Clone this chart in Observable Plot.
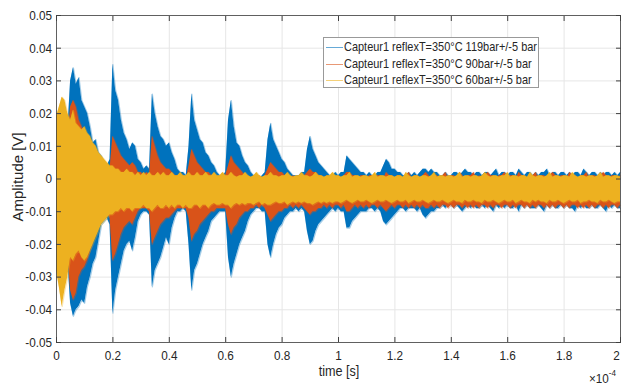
<!DOCTYPE html>
<html><head><meta charset="utf-8">
<script src="https://cdn.jsdelivr.net/npm/d3@7"></script>
<script src="https://cdn.jsdelivr.net/npm/@observablehq/plot@0.6"></script>
<style>
body{margin:0;background:#fff;}
#wrap{position:relative;width:622px;height:385px;overflow:hidden;font-family:"Liberation Sans",Arial,Helvetica,sans-serif;color:#262626;}
#ylab{position:absolute;left:17px;top:177px;transform:translate(-50%,-50%) rotate(-90deg);font-size:15px;white-space:nowrap;}
#xlab{position:absolute;left:339px;top:364px;transform:translateX(-50%) scaleX(0.87);font-size:14.5px;line-height:1;white-space:nowrap;}
#xexp{position:absolute;left:589px;top:371px;font-size:13px;line-height:1;white-space:nowrap;transform:scaleX(0.9);transform-origin:left;}
#xexp sup{font-size:9px;position:relative;top:-2px;}
#legend{position:absolute;left:323px;top:37px;width:214px;height:49px;border:1px solid #999;background:#fff;}
.row{position:absolute;left:0;height:16px;width:214px;}
.row .ln{position:absolute;left:2px;width:17px;top:8px;height:0;border-top:1px solid;}
.row .tx{position:absolute;left:20px;top:0;font-size:12.6px;line-height:16px;white-space:nowrap;transform:scaleX(0.87);transform-origin:left;}
</style></head>
<body><div id="wrap"></div>
<script>
// time axis in units of 1e-4 s, sampling step 0.01e-4 s
const timeStep = 0.01;
const nSamples = 201;
const xTicks = [0, 0.2, 0.4, 0.6, 0.8, 1, 1.2, 1.4, 1.6, 1.8, 2];
const yTicks = [-0.05, -0.04, -0.03, -0.02, -0.01, 0, 0.01, 0.02, 0.03, 0.04, 0.05];
const seriesNames = ["Capteur1 reflexT=350°C 119bar+/-5 bar", "Capteur1 reflexT=350°C 90bar+/-5 bar", "Capteur1 reflexT=350°C 60bar+/-5 bar"];
const seriesColors = ["#0072BD", "#D95319", "#EDB120"];

// envelopes (mV): upper / lower amplitude per sample
const blueHi = [
8,10,12,11,14,30,34,29,31,24,
22,20,16,11,12,8,7,5,4,6,
35,27,24,18,14,12,9,11,10,6,
5,3,4,3,26,20,16,13,12,10,
11,8,6,3,2,2,1,10,26,18,
15,12,11,8,7,5,4,2,1,1,
2,18,24,16,11,10,7,5,4,2,
1,1,0,1,2,12,17,12,10,8,
6,5,3,2,1,1,1,2,2,9,
13,9,7,5,4,3,2,1,1,2,
1,2,2,7,6,5,4,3,2,2,
1,2,1,1,2,2,4,6,5,3,
3,2,2,1,1,2,1,2,1,2,
3,3,2,3,2,2,1,1,2,1,
1,2,2,1,2,3,2,2,1,2,
2,1,2,2,1,2,3,1,2,2,
1,2,2,1,3,2,1,2,2,1,
2,1,2,2,3,1,2,2,1,2,
2,1,2,1,2,2,1,3,2,1,
2,2,1,2,1,2,2,1,2,1,2];
const blueLo = [
-18,-20,-22,-20,-24,-38,-42,-40,-39,-37,
-38,-33,-30,-26,-24,-19,-14,-13,-12,-14,
-41,-34,-30,-26,-22,-20,-19,-22,-18,-13,
-11,-10,-10,-11,-33,-28,-26,-24,-21,-18,
-20,-15,-12,-10,-10,-9,-10,-20,-34,-28,
-26,-23,-20,-18,-16,-13,-12,-11,-10,-10,
-10,-24,-30,-26,-23,-20,-18,-16,-13,-11,
-10,-9,-9,-10,-10,-20,-24,-20,-17,-15,
-14,-12,-11,-10,-10,-9,-10,-9,-10,-16,
-20,-19,-16,-14,-13,-12,-11,-10,-9,-10,
-9,-10,-10,-15,-15,-13,-12,-11,-10,-10,
-10,-9,-9,-10,-9,-10,-13,-14,-13,-12,
-11,-10,-9,-9,-10,-9,-9,-9,-10,-9,
-11,-12,-11,-10,-10,-9,-9,-8,-9,-8,
-8,-9,-8,-9,-10,-9,-8,-9,-8,-9,
-9,-8,-9,-8,-9,-10,-8,-9,-8,-9,
-8,-9,-9,-8,-10,-8,-9,-8,-9,-9,
-9,-8,-9,-10,-8,-9,-8,-9,-9,-8,
-9,-8,-9,-9,-10,-8,-9,-8,-9,-9,
-8,-9,-9,-8,-9,-10,-8,-9,-8,-9,-9];
const orangeHi = [
6,8,9,8,10,22,24,22,18,16,
14,12,10,8,7,5,4,3,2,3,
13,11,9,7,6,5,4,5,4,2,
2,1,2,1,13,10,7,5,4,3,
3,2,1,1,0,1,0,4,9,7,
5,4,3,2,2,1,1,0,1,0,
1,4,7,5,4,3,2,1,1,0,
1,0,1,0,1,3,5,4,3,2,
2,1,1,0,1,0,1,0,1,2,
3,2,2,1,1,0,1,0,1,0,
1,0,1,2,2,1,1,0,1,1,
0,1,1,0,1,1,0,2,1,1,
0,1,1,0,1,2,0,1,1,0,
1,2,1,0,1,1,0,1,2,0,
1,1,0,2,1,0,1,1,2,0,
1,0,1,2,1,1,0,1,1,2,
0,1,1,0,2,1,1,0,1,1,
2,0,1,1,0,1,2,1,0,1,
1,0,2,1,1,0,1,1,2,0,
1,1,0,1,2,1,0,1,1,0,1];
const orangeLo = [
-16,-18,-20,-18,-22,-34,-37,-35,-30,-28,
-27,-25,-22,-19,-17,-14,-12,-11,-10,-12,
-25,-23,-20,-17,-15,-14,-13,-14,-12,-10,
-9,-9,-9,-10,-20,-18,-16,-14,-13,-12,
-12,-11,-10,-9,-9,-9,-9,-12,-19,-17,
-16,-14,-13,-12,-11,-10,-10,-9,-9,-9,
-9,-14,-17,-15,-14,-12,-11,-10,-10,-9,
-9,-8,-9,-8,-9,-11,-13,-12,-11,-10,
-10,-9,-9,-8,-9,-8,-9,-8,-9,-10,
-11,-10,-10,-9,-9,-8,-9,-8,-9,-8,
-8,-9,-8,-10,-10,-9,-8,-9,-8,-9,
-8,-9,-8,-8,-9,-8,-9,-10,-9,-8,
-9,-8,-8,-9,-8,-9,-8,-9,-8,-9,
-8,-9,-9,-8,-9,-8,-9,-8,-8,-9,
-8,-9,-8,-8,-9,-8,-9,-8,-9,-8,
-9,-8,-8,-9,-8,-9,-8,-8,-9,-8,
-8,-9,-8,-9,-8,-8,-9,-8,-9,-8,
-9,-8,-8,-9,-8,-9,-8,-9,-8,-8,
-9,-8,-9,-8,-8,-9,-8,-9,-8,-9,
-8,-9,-8,-8,-9,-8,-9,-8,-8,-9,-8];
const yellowHi = [
19,22,25,24,20,18,21,17,16,15,
16,14,13,11,10,8,7,6,5,4,
4,3,3,2,2,3,2,2,1,2,
1,2,1,2,1,1,2,1,2,1,
1,2,1,1,2,1,1,2,1,1,
2,1,1,2,1,1,2,1,1,2,
1,1,2,1,0.5,1,1,2,1,0.5,
1,2,1,0.5,1,1,2,1,1,0.5,
1,1,2,1,0.5,1,1,2,1,1,
0.5,1,2,1,1,0.5,1,1,2,1,
1,0.5,1,1,2,0.5,1,1,0.5,1,
1,0.5,1,2,0.5,1,1,0.5,1,1,
0.5,1,1,0.5,2,1,0.5,1,1,0.5,
1,1,0.5,1,2,0.5,1,1,0.5,1,
1,0.5,1,2,0.5,1,1,0.5,1,1,
0.5,1,2,1,0.5,1,1,0.5,1,1,
2,0.5,1,1,0.5,1,1,0.5,2,1,
0.5,1,1,0.5,1,2,0.5,1,1,0.5,
1,1,0.5,2,1,0.5,1,1,0.5,1,
1,0.5,1,2,0.5,1,1,0.5,1,1,0.5];
const yellowLo = [
-28,-33,-39,-34,-30,-24,-25,-23,-22,-24,
-25,-24,-22,-20,-18,-16,-14,-13,-12,-11,
-11,-10,-10,-9,-10,-9,-9,-10,-9,-9,
-9,-8,-9,-9,-10,-9,-8,-9,-9,-8,
-9,-8,-9,-8,-8,-9,-8,-9,-9,-8,
-8,-9,-8,-8,-9,-8,-7.5,-8,-8,-7.5,
-8,-8,-9,-8,-7.5,-8,-7.5,-8,-7.5,-7.5,
-8,-7.5,-7,-8,-7.5,-8,-8,-7.5,-7,-7.5,
-7.5,-7,-8,-7.5,-7,-7.5,-7,-7.5,-7,-7.5,
-7.5,-8,-7.5,-7,-7.5,-7,-7.5,-7,-7.5,-7,
-7,-7.5,-7,-6.5,-7,-7.5,-7,-6.5,-7,-7,
-6.5,-7,-7.5,-7,-6.5,-7,-7,-6.5,-7,-7.5,
-7,-6.5,-7,-7,-6.5,-7.5,-7,-6.5,-7,-7,
-6.5,-7,-7.5,-7,-6.5,-7,-7,-6.5,-7,-7.5,
-7,-6.5,-7,-7,-7.5,-6.5,-7,-7,-6.5,-7,
-7,-7.5,-6.5,-7,-7,-6.5,-7,-7.5,-7,-6.5,
-7,-7,-6.5,-7.5,-7,-6.5,-7,-7,-7.5,-6.5,
-7,-6.5,-7,-7,-7.5,-6.5,-7,-7,-6.5,-7,
-7.5,-7,-6.5,-7,-7,-6.5,-7.5,-7,-7,-6.5,
-7,-7,-7.5,-6.5,-7,-7,-6.5,-7,-7.5,-7,-7];

const times = d3.range(nSamples).map(i => +(i * timeStep).toFixed(2));
function rows(hi, lo) {
  return times.map((t, i) => ({t, hi: hi[i] / 1000, lo: lo[i] / 1000}));
}
const series = [
  {data: rows(blueHi, blueLo), color: seriesColors[0]},
  {data: rows(orangeHi, orangeLo), color: seriesColors[1]},
  {data: rows(yellowHi, yellowLo), color: seriesColors[2]}
];

const marks = [
  Plot.gridX(xTicks, {stroke: "#e6e6e6", strokeOpacity: 1}),
  Plot.gridY(yTicks, {stroke: "#e6e6e6", strokeOpacity: 1})
];
for (const s of series) {
  marks.push(Plot.areaY(s.data, {x: "t", y1: "lo", y2: "hi", fill: s.color, fillOpacity: 1}));
  marks.push(Plot.lineY(s.data, {x: "t", y: "hi", stroke: s.color, strokeOpacity: 0.35, strokeWidth: 1.2}));
  marks.push(Plot.lineY(s.data, {x: "t", y: "lo", stroke: s.color, strokeOpacity: 0.35, strokeWidth: 1.2}));
}
marks.push(
  Plot.frame({stroke: "#404040", strokeWidth: 0.8}),
  Plot.axisX(xTicks, {anchor: "bottom", tickSize: -5, tickPadding: 13, tickFormat: d => d3.format("~g")(d), label: null, stroke: "#404040"}),
  Plot.axisX(xTicks, {anchor: "top", tickSize: -5, tickFormat: () => "", label: null, stroke: "#404040"}),
  Plot.axisY(yTicks, {anchor: "left", tickSize: -5, tickPadding: 9.5, tickFormat: d => Math.abs(d) < 1e-9 ? "0" : d.toFixed(2), label: null, stroke: "#404040"}),
  Plot.axisY(yTicks, {anchor: "right", tickSize: -5, tickFormat: () => "", label: null, stroke: "#404040"})
);

const chart = Plot.plot({
  width: 622, height: 385,
  marginLeft: 56, marginRight: 2, marginTop: 15, marginBottom: 43,
  x: {domain: [0, 2], label: null},
  y: {domain: [-0.05, 0.05], label: null},
  style: {fontFamily: "Liberation Sans, Arial, sans-serif", fontSize: "13.5px", color: "#262626", background: "#fff"},
  marks
});
const wrap = document.getElementById("wrap");
wrap.appendChild(chart);
// horizontally condense tick labels as in the reference; keep the last x label inside the picture
chart.querySelectorAll('g[aria-label$="tick label"] text').forEach(el => {
  const tr = el.getAttribute("transform") || "";
  const shift = el.textContent === "2" ? " translate(-4,0)" : "";
  el.setAttribute("transform", tr + shift + " scale(0.87,1)");
});

function addDiv(id, html) { const d = document.createElement("div"); d.id = id; d.innerHTML = html; wrap.appendChild(d); return d; }
addDiv("ylab", "Amplitude [V]");
addDiv("xlab", "time [s]");
addDiv("xexp", "×10<sup>-4</sup>");
const lg = addDiv("legend", "");
seriesNames.forEach((name, i) => {
  const r = document.createElement("div");
  r.className = "row";
  r.style.top = (1 + i * 16.5) + "px";
  r.innerHTML = `<div class="ln" style="border-color:${seriesColors[i]};opacity:0.6"></div><div class="tx">${name}</div>`;
  lg.appendChild(r);
});
</script></body></html>
